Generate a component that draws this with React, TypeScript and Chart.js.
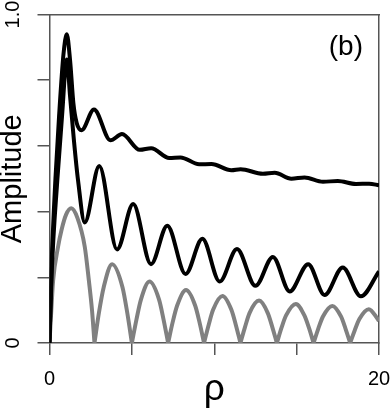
import React, { useEffect, useRef } from "react";
import { Chart, registerables } from "chart.js";
Chart.register(...registerables);

// Upper black curve
const rhoA = [0, 0.13, 0.36, 0.58, 0.85, 1.05, 1.25, 1.45, 1.65, 1.95, 2.7, 3.7, 4.4, 5.48, 6.17, 7.27, 7.95, 9.08, 9.83, 11.04, 11.6, 12.95, 13.67, 14.68, 15.48, 16.6, 17.5, 18.6, 19.4, 20];
const ampA = [0, 0.24, 0.5, 0.69, 0.88, 0.94, 0.86, 0.73, 0.67, 0.648, 0.711, 0.617, 0.636, 0.588, 0.593, 0.563, 0.565, 0.544, 0.545, 0.526, 0.529, 0.515, 0.518, 0.5, 0.504, 0.491, 0.493, 0.484, 0.485, 0.48];

// Middle black curve
const rhoB = [0, 0.13, 0.48, 0.76, 1.05, 1.25, 1.48, 1.73, 2.14, 3.02, 4.1, 5.08, 6.16, 7.15, 8.26, 9.28, 10.33, 11.38, 12.5, 13.56, 14.58, 15.7, 16.7, 17.8, 18.9, 20];
const ampB = [0, 0.21, 0.5, 0.69, 0.863, 0.75, 0.618, 0.496, 0.367, 0.539, 0.285, 0.423, 0.24, 0.357, 0.21, 0.317, 0.187, 0.286, 0.174, 0.262, 0.157, 0.24, 0.146, 0.23, 0.142, 0.218];

// Gray curve (arches touching zero)
const rhoC = [0, 0.1, 0.22, 0.52, 0.73, 1.0, 1.32, 1.7, 2.14, 2.39, 2.58, 2.73, 3.0, 3.29, 3.8, 4.43, 4.72, 5.0, 5.28, 5.55, 6.07, 6.65, 6.92, 7.2, 7.47, 7.75, 8.29, 8.84, 9.11, 9.38, 9.66, 9.93, 10.5, 11.04, 11.31, 11.59, 11.87, 12.14, 12.72, 13.25, 13.52, 13.8, 14.08, 14.36, 14.95, 15.47, 15.75, 16.03, 16.31, 16.59, 17.17, 17.7, 17.97, 18.25, 18.53, 18.81, 19.38, 19.92, 20];
const ampC = [0, 0.09, 0.19, 0.293, 0.344, 0.39, 0.41, 0.38, 0.293, 0.19, 0.1, 0, 0.092, 0.17, 0.24, 0.17, 0.092, 0, 0.072, 0.132, 0.187, 0.132, 0.072, 0, 0.062, 0.114, 0.161, 0.114, 0.062, 0, 0.055, 0.101, 0.143, 0.101, 0.055, 0, 0.049, 0.091, 0.129, 0.091, 0.049, 0, 0.046, 0.084, 0.119, 0.084, 0.046, 0, 0.043, 0.08, 0.113, 0.08, 0.043, 0, 0.039, 0.073, 0.103, 0.073, 0.067];

const xTickLabels: Record<number, string> = { 0: "0", 20: "20" };
const yTickLabels: Record<string, string> = { "0": "0", "1": "1.0" };
const panelLabel = "(b)";
const xTitle = "ρ";
const yTitle = "Amplitude";

const FONT = '"Liberation Sans", Arial, Helvetica, sans-serif';
const AXIS = "#555555";

function toPoints(xs: number[], ys: number[]) {
  return xs.map((x, i) => ({ x, y: ys[i] }));
}

// break the line at interior zeros so the arches meet in sharp cusps
function toArchPoints(xs: number[], ys: number[]) {
  const out: { x: number; y: number | null }[] = [];
  xs.forEach((x, i) => {
    out.push({ x, y: ys[i] });
    if (ys[i] === 0 && i > 0 && i < xs.length - 1) {
      out.push({ x, y: null });
      out.push({ x, y: ys[i] });
    }
  });
  return out;
}

const zeroPad = (s: any) => {
  s.paddingLeft = 0;
  s.paddingRight = 0;
  s.paddingTop = 0;
  s.paddingBottom = 0;
};

const panelPlugin = {
  id: "panelLabel",
  afterDraw(chart: any) {
    const { ctx, chartArea } = chart;
    ctx.save();
    ctx.font = `28px ${FONT}`;
    ctx.fillStyle = "#000";
    ctx.textAlign = "right";
    ctx.textBaseline = "middle";
    ctx.fillText(panelLabel, chartArea.right - 16, chartArea.top + 33);
    ctx.restore();
  },
};

export default function App() {
  const ref = useRef<HTMLCanvasElement>(null);
  useEffect(() => {
    document.body.style.margin = "0";
    const canvas = ref.current!;
    const lineCommon = {
      pointRadius: 0,
      fill: false,
      cubicInterpolationMode: "monotone" as const,
      spanGaps: false,
      xAxisID: "x",
      yAxisID: "y",
    };
    const chart = new Chart(canvas, {
      type: "line",
      data: {
        datasets: [
          { ...lineCommon, data: toPoints(rhoA, ampA), borderColor: "#000000", borderWidth: 4 },
          { ...lineCommon, data: toPoints(rhoB, ampB), borderColor: "#000000", borderWidth: 4 },
          { ...lineCommon, data: toArchPoints(rhoC, ampC) as any, borderColor: "#808080", borderWidth: 4 },
        ],
      },
      options: {
        responsive: false,
        animation: false,
        devicePixelRatio: 1,
        layout: { padding: 0 },
        plugins: { legend: { display: false }, tooltip: { enabled: false }, title: { display: false } },
        scales: {
          x: {
            type: "linear",
            position: "bottom",
            min: 0,
            max: 20,
            ticks: {
              stepSize: 5,
              autoSkip: false,
              maxRotation: 0,
              minRotation: 0,
              padding: 14.5,
              color: "#000",
              font: { family: FONT, size: 20, lineHeight: 1 },
              callback: (v: any) => xTickLabels[Number(v)] ?? "",
            },
            grid: { display: true, drawOnChartArea: false, drawTicks: true, tickLength: 12, color: AXIS, lineWidth: 1.5 },
            border: { display: true, color: AXIS, width: 1.5 },
            title: { display: true, text: xTitle, color: "#000", font: { family: FONT, size: 37, lineHeight: 1 }, padding: { top: 0, bottom: 2 } },
            afterFit(s: any) {
              s.height = 67;
              zeroPad(s);
            },
          },
          x2: {
            type: "linear",
            position: "top",
            min: 0,
            max: 20,
            ticks: { display: false },
            grid: { display: false },
            border: { display: true, color: AXIS, width: 1.5 },
            afterFit(s: any) {
              s.height = 14.5;
              zeroPad(s);
            },
          },
          y: {
            type: "linear",
            position: "left",
            min: 0,
            max: 1,
            ticks: {
              stepSize: 0.2,
              autoSkip: false,
              minRotation: 90,
              maxRotation: 90,
              crossAlign: "center",
              padding: 10,
              color: "#000",
              font: { family: FONT, size: 20 },
              callback: (v: any) => {
                const n = Number(v);
                if (Math.abs(n) < 1e-9) return yTickLabels["0"];
                if (Math.abs(n - 1) < 1e-9) return yTickLabels["1"];
                return "";
              },
            },
            grid: { display: true, drawOnChartArea: false, drawTicks: true, tickLength: 12, color: AXIS, lineWidth: 1.5 },
            border: { display: true, color: AXIS, width: 1.5 },
            title: { display: true, text: yTitle, color: "#000", font: { family: FONT, size: 29, lineHeight: 0.92 }, padding: { top: 0, bottom: 0 } },
            afterFit(s: any) {
              s.width = 49.5;
              zeroPad(s);
            },
          },
          y2: {
            type: "linear",
            position: "right",
            min: 0,
            max: 1,
            ticks: { display: false },
            grid: { display: false },
            border: { display: true, color: AXIS, width: 1.5 },
            afterFit(s: any) {
              s.width = 11;
              zeroPad(s);
            },
          },
        },
      },
      plugins: [panelPlugin],
    });
    return () => chart.destroy();
  }, []);
  return (
    <div style={{ width: 390, height: 410, position: "relative" }}>
      <canvas ref={ref} width={390} height={410} style={{ display: "block" }} />
    </div>
  );
}
